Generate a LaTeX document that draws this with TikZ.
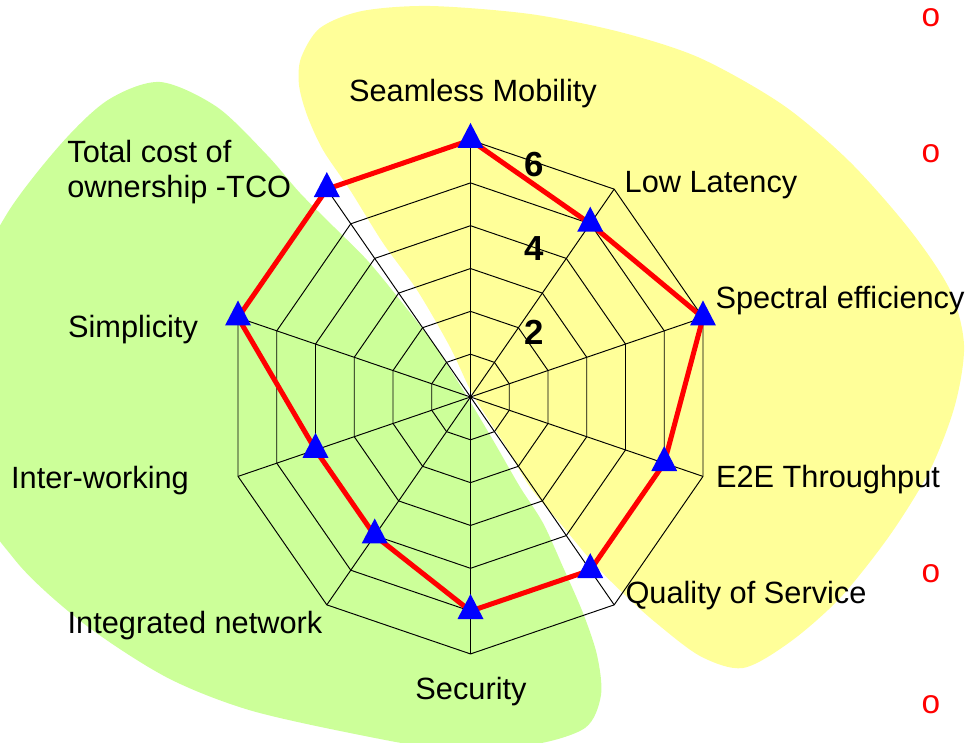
\documentclass[tikz,border=0pt]{standalone}
\usepackage{fontspec}
\setmainfont{Liberation Sans}
\usetikzlibrary{shapes.geometric}
\definecolor{jaune}{RGB}{255,255,153}
\definecolor{vert}{RGB}{204,255,153}

\begin{document}
\begin{tikzpicture}[x=0.02cm, y=-0.02cm]
\tikzset{etiquette/.style={font=\fontsize{17.5}{20.4}\selectfont, inner sep=0pt},
  chiffre/.style={font=\fontsize{19.8}{24}\selectfont\bfseries, inner sep=0pt},
  rond/.style={font=\fontsize{19}{24}\selectfont, text=red, inner sep=0pt},
  grille/.style={draw=black, line width=0.55pt},
  serie/.style={draw=red, line width=0.1cm, line join=round},
  marqueur/.style={isosceles triangle, isosceles triangle stretches, shape border rotate=90,
    fill=blue, inner sep=0pt, minimum width=0.52cm, minimum height=0.5cm}}
\useasboundingbox (0,0) rectangle (970,743);
\clip (0,0) rectangle (970,743);
% les deux zones de fond
\fill[jaune] plot[smooth cycle] coordinates {(299,85) (301,58) (320,28) (362,11) (430,6) (530,14)
  (620,32) (700,58) (783,105) (850,162) (910,230) (950,290) (964,345) (955,405) (930,470)
  (890,535) (840,598) (790,642) (743,668) (700,656) (655,622) (625,595) (595,565) (560,523)
  (530,487) (505,445) (473,395) (450,347) (417,290) (383,243) (350,190) (323,150) (307,115)};
\fill[vert] plot[smooth cycle] coordinates {(160,82) (217,107) (267,155) (300,193) (335,228)
  (367,260) (400,300) (433,343) (460,385) (477,413) (497,447) (520,487) (543,523) (563,567)
  (583,613) (597,655) (601,695) (585,728) (530,745) (440,748) (360,735) (249,710) (166,677)
  (83,623) (15,560) (-30,480) (-30,300) (5,217) (60,145) (108,100)};
\coordinate (ctr) at (470.5,397);
\begin{scope}[shift={(ctr)}, x=0.815cm, y=0.8566cm]
\coordinate (O) at (0,0);
\coordinate (A1) at (90:6);
\coordinate (A2) at (54:6);
\coordinate (A3) at (18:6);
\coordinate (A4) at (-18:6);
\coordinate (A5) at (-54:6);
\coordinate (A6) at (-90:6);
\coordinate (A7) at (-126:6);
\coordinate (A8) at (-162:6);
\coordinate (A9) at (162:6);
\coordinate (A10) at (126:6);
% toile
\draw[grille] (90:1) -- (54:1) -- (18:1) -- (-18:1) -- (-54:1) -- (-90:1) -- (-126:1) -- (-162:1) -- (162:1) -- (126:1) -- cycle;
\draw[grille] (90:2) -- (54:2) -- (18:2) -- (-18:2) -- (-54:2) -- (-90:2) -- (-126:2) -- (-162:2) -- (162:2) -- (126:2) -- cycle;
\draw[grille] (90:3) -- (54:3) -- (18:3) -- (-18:3) -- (-54:3) -- (-90:3) -- (-126:3) -- (-162:3) -- (162:3) -- (126:3) -- cycle;
\draw[grille] (90:4) -- (54:4) -- (18:4) -- (-18:4) -- (-54:4) -- (-90:4) -- (-126:4) -- (-162:4) -- (162:4) -- (126:4) -- cycle;
\draw[grille] (90:5) -- (54:5) -- (18:5) -- (-18:5) -- (-54:5) -- (-90:5) -- (-126:5) -- (-162:5) -- (162:5) -- (126:5) -- cycle;
\draw[grille] (A1) -- (A2) -- (A3) -- (A4) -- (A5) -- (A6) -- (A7) -- (A8) -- (A9) -- (A10) -- cycle;
\draw[grille] (O) -- (A1);
\draw[grille] (O) -- (A2);
\draw[grille] (O) -- (A3);
\draw[grille] (O) -- (A4);
\draw[grille] (O) -- (A5);
\draw[grille] (O) -- (A6);
\draw[grille] (O) -- (A7);
\draw[grille] (O) -- (A8);
\draw[grille] (O) -- (A9);
\draw[grille] (O) -- (A10);
% valeurs
\coordinate (P1) at (90:6);
\coordinate (P2) at (54:5);
\coordinate (P3) at (18:6);
\coordinate (P4) at (-18:5);
\coordinate (P5) at (-54:5);
\coordinate (P6) at (-90:5);
\coordinate (P7) at (-126:4);
\coordinate (P8) at (-162:4);
\coordinate (P9) at (162:6);
\coordinate (P10) at (126:6);
\draw[serie] (P1) -- (P2) -- (P3) -- (P4) -- (P5) -- (P6) -- (P7) -- (P8) -- (P9) -- (P10) -- cycle;
\node[marqueur] (M1) at (P1) {};
\node[marqueur] (M2) at (P2) {};
\node[marqueur] (M3) at (P3) {};
\node[marqueur] (M4) at (P4) {};
\node[marqueur] (M5) at (P5) {};
\node[marqueur] (M6) at (P6) {};
\node[marqueur] (M7) at (P7) {};
\node[marqueur] (M8) at (P8) {};
\node[marqueur] (M9) at (P9) {};
\node[marqueur] (M10) at (P10) {};
\end{scope}
% echelle
\node[chiffre, anchor=base] (E2) at (534,344) {2};
\node[chiffre, anchor=base] (E4) at (534,260) {4};
\node[chiffre, anchor=base] (E6) at (534,177) {6};
% axes
\node[etiquette, anchor=base] (L1) at (473,102) {Seamless Mobility};
\node[etiquette, anchor=base] (L2) at (711,193) {Low Latency};
\node[etiquette, anchor=base] (L3) at (840,308) {Spectral efficiency};
\node[etiquette, anchor=base] (L4) at (828,487) {E2E Throughput};
\node[etiquette, anchor=base] (L5) at (746,603) {Quality of Service};
\node[etiquette, anchor=base] (L6) at (471,699) {Security};
\node[etiquette, anchor=base] (L7) at (195,633) {Integrated network};
\node[etiquette, anchor=base] (L8) at (100,488) {Inter-working};
\node[etiquette, anchor=base] (L9) at (133,337) {Simplicity};
\node[etiquette, anchor=west, align=left] (L10) at (67,172) {Total cost of\\ownership -TCO};
% marques rouges
\node[rond, anchor=base] (R1) at (931,27) {o};
\node[rond, anchor=base] (R2) at (931,163) {o};
\node[rond, anchor=base] (R3) at (931,582) {o};
\node[rond, anchor=base] (R4) at (931,713) {o};
\end{tikzpicture}
\end{document}
